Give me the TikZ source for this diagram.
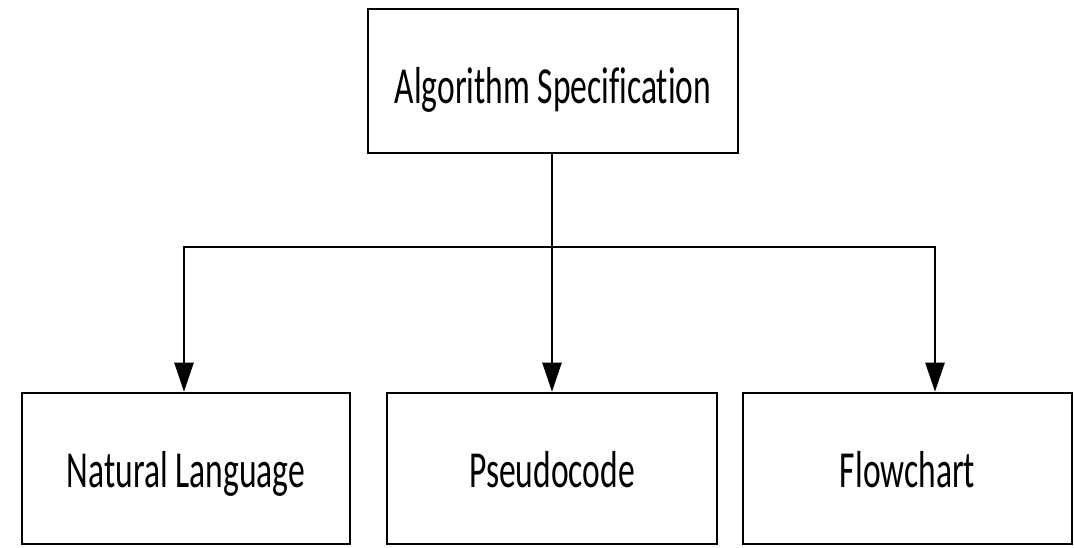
\documentclass[tikz,border=0pt]{standalone}
\usepackage{fontspec}
\setmainfont[FakeStretch=0.645, Ligatures=NoCommon]{Carlito}
\usetikzlibrary{arrows.meta}
\begin{document}
\begin{tikzpicture}[x=1pt,y=-1pt,
  box/.style={draw=black, line width=2.6pt, fill=white, inner sep=0pt,
    text depth=0pt, font=\fontsize{52}{56}\selectfont},
  link/.style={line width=2.6pt, draw=black},
  arr/.style={link, -{Triangle[length=29pt,width=19pt]}}]
\useasboundingbox (0,0) rectangle (1074,547);
\node[box, text height=44pt, minimum width=370pt, minimum height=144pt] (spec) at (553,81) {Algorithm Specification};
\node[box, text height=37pt, minimum width=328pt, minimum height=151pt] (nat) at (186,468.5) {Natural Language};
\node[box, text height=37pt, minimum width=330pt, minimum height=151pt] (pse) at (552,468.5) {Pseudocode};
\node[box, text height=37pt, minimum width=329pt, minimum height=151pt] (flo) at (907.5,468.5) {Flowchart};
\coordinate (bus) at (552,247);
\draw[link] (spec.south -| bus) -- (bus);
\draw[arr] (bus) -- (pse.north);
\draw[arr] (bus) -| (nat.north -| 184,0);
\draw[arr] (bus) -| (flo.north -| 935,0);
\end{tikzpicture}
\end{document}
